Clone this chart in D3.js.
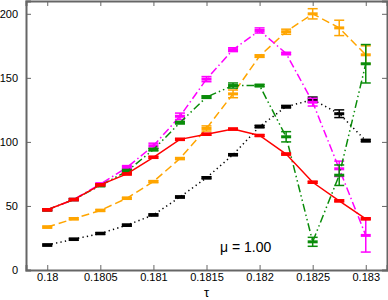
<!doctype html>
<html>
<head>
	<meta charset="UTF-8">
	<script src="https://d3js.org/d3.v7.min.js"></script>
	<style>
		body { margin: 0; background: #fff; }
		text { font-family: "Liberation Sans", Arial, sans-serif; }
	</style>
</head>
<body>
	<script>
		// tau values shared by all series
		var tau = [0.18, 0.18025, 0.1805, 0.18075, 0.181, 0.18125, 0.1815,
			0.18175, 0.182, 0.18225, 0.1825, 0.18275, 0.183];

		// series values and error half-widths
		var blackVals = [19.5, 24, 28.5, 35, 43, 57, 72, 90, 112, 127.5, 133, 122, 101];
		var blackErr  = [0.8, 0.8, 0.8, 0.8, 0.8, 0.8, 0.8, 0.8, 1, 1, 2, 3, 1];
		var orangeVals = [33.5, 40, 46.5, 56, 69, 87, 110.5, 137.5, 167, 186, 200, 189, 168];
		var orangeErr  = [0.8, 0.8, 0.8, 0.8, 0.8, 0.8, 2, 3, 1, 2, 4, 6, 7];
		var magentaVals = [47, 55, 67, 80, 97, 120, 149, 172, 187, 169, 131, 79, 27];
		var magentaErr  = [0.8, 0.8, 1, 1.5, 2, 2.5, 2, 1.5, 2, 1, 3, 6, 13];
		var greenVals = [47, 55, 66, 77, 94, 115, 135, 144, 144, 104, 22, 74, 161];
		var greenErr  = [0.8, 0.8, 1, 1.5, 1, 1, 1, 2, 1, 4, 3.5, 8, 15];
		var redVals = [47, 55, 66.5, 75, 88, 102, 106, 110, 105, 90.5, 68.5, 54, 40];
		var redErr  = [0.8, 0.8, 0.8, 0.8, 0.8, 0.8, 0.8, 0.8, 0.8, 0.8, 0.8, 0.8, 0.8];

		var xMajor = [0.18, 0.1805, 0.181, 0.1815, 0.182, 0.1825, 0.183];
		var xLabels = ["0.18", "0.1805", "0.181", "0.1815", "0.182", "0.1825", "0.183"];
		var yMajor = [0, 50, 100, 150, 200];

		var width = 388, height = 300;
		var plot = {left: 26, right: 387, top: 1, bottom: 270};

		var svg = d3.select("body").append("svg")
			.attr("width", width)
			.attr("height", height);

		var x = d3.scaleLinear().domain([0.1798, 0.1832]).range([plot.left, plot.right]);
		var y = d3.scaleLinear().domain([0, 210]).range([plot.bottom, plot.top]);

		// minor ticks
		var xMinor = d3.range(0, 33).map(function(i) { return 0.1799 + i * 0.0001; });
		var yMinor = d3.range(0, 21).map(function(i) { return i * 10; });

		var axisCol = "#666";

		// bottom + top axes (ticks point inward)
		var bottomAxis = d3.axisBottom(x).tickValues(xMajor).tickSize(-5)
			.tickFormat(function(d, i) { return xLabels[i]; }).tickPadding(3);
		var topAxis = d3.axisTop(x).tickValues(xMajor).tickSize(-5).tickFormat("");
		var leftAxis = d3.axisLeft(y).tickValues(yMajor).tickSize(-5).tickPadding(8);
		var rightAxis = d3.axisRight(y).tickValues(yMajor).tickSize(-5).tickFormat("");

		function minorAxis(ax, vals) {
			return ax.tickValues(vals).tickSize(-3).tickFormat("");
		}

		var g;
		g = svg.append("g").attr("transform", "translate(0," + plot.bottom + ")");
		g.call(minorAxis(d3.axisBottom(x), xMinor));
		g.call(bottomAxis);
		g = svg.append("g").attr("transform", "translate(0," + plot.top + ")");
		g.call(minorAxis(d3.axisTop(x), xMinor));
		g.call(topAxis);
		g = svg.append("g").attr("transform", "translate(" + plot.left + ",0)");
		g.call(minorAxis(d3.axisLeft(y), yMinor));
		g.call(leftAxis);
		g = svg.append("g").attr("transform", "translate(" + plot.right + ",0)");
		g.call(minorAxis(d3.axisRight(y), yMinor));
		g.call(rightAxis);

		svg.selectAll(".domain").attr("stroke", axisCol).attr("stroke-width", 2);
		svg.selectAll(".tick line").attr("stroke", axisCol).attr("stroke-width", 1);
		svg.selectAll(".tick text").attr("fill", "#000").attr("font-size", 11)
			.style("font-family", "'Liberation Sans', Arial, sans-serif");

		// series definitions
		var series = [
			{vals: blackVals, err: blackErr, color: "#000", dash: "1.3,3.2"},
			{vals: orangeVals, err: orangeErr, color: "#ffa500", dash: "8,4"},
			{vals: magentaVals, err: magentaErr, color: "#ff00ff", dash: "8,3,1.5,3"},
			{vals: greenVals, err: greenErr, color: "#0a8c0a", dash: "8,3,1.5,3,1.5,3"},
			{vals: redVals, err: redErr, color: "#ff0000", dash: null}
		];

		var line = d3.line()
			.x(function(d) { return x(d.t); })
			.y(function(d) { return y(d.v); });

		series.forEach(function(s) {
			var pts = tau.map(function(t, i) { return {t: t, v: s.vals[i], e: s.err[i]}; });
			var sg = svg.append("g");

			sg.append("path")
				.datum(pts)
				.attr("d", line)
				.attr("fill", "none")
				.attr("stroke", s.color)
				.attr("stroke-width", 1.5)
				.attr("stroke-dasharray", s.dash);

			// error bars
			var eb = sg.selectAll(".eb").data(pts).enter().append("g");
			eb.append("line")
				.attr("x1", function(d) { return x(d.t); })
				.attr("x2", function(d) { return x(d.t); })
				.attr("y1", function(d) { return y(d.v - d.e); })
				.attr("y2", function(d) { return y(d.v + d.e); })
				.attr("stroke", s.color).attr("stroke-width", 1.5);
			[-1, 1].forEach(function(sgn) {
				eb.append("line")
					.attr("x1", function(d) { return x(d.t) - 5; })
					.attr("x2", function(d) { return x(d.t) + 5; })
					.attr("y1", function(d) { return y(d.v + sgn * d.e); })
					.attr("y2", function(d) { return y(d.v + sgn * d.e); })
					.attr("stroke", s.color).attr("stroke-width", 1.5);
			});

			// dash markers
			sg.selectAll(".mk").data(pts).enter().append("line")
				.attr("x1", function(d) { return x(d.t) - 5; })
				.attr("x2", function(d) { return x(d.t) + 5; })
				.attr("y1", function(d) { return y(d.v); })
				.attr("y2", function(d) { return y(d.v); })
				.attr("stroke", s.color).attr("stroke-width", 3);
		});

		// axis title
		svg.append("text")
			.attr("x", x(0.1815))
			.attr("y", 297)
			.attr("text-anchor", "middle")
			.attr("font-size", 13)
			.text("τ");

		// annotation
		svg.append("text")
			.attr("x", 220)
			.attr("y", 252)
			.attr("font-size", 14)
			.text("μ = 1.00");
	</script>
</body>
</html>
